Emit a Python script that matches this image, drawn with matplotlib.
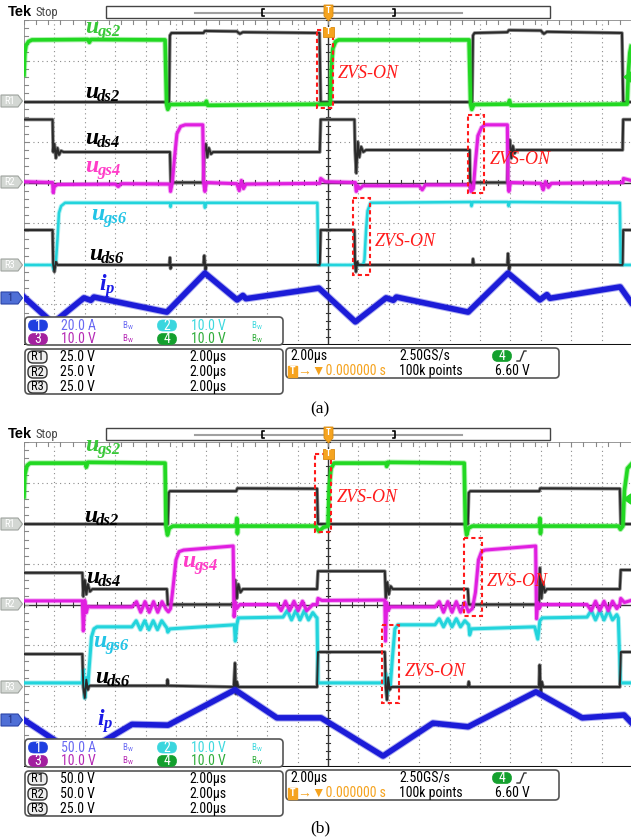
import matplotlib
matplotlib.use('Agg')
import matplotlib.pyplot as plt
from matplotlib.patches import FancyBboxPatch, Rectangle, Polygon
import logging
logging.getLogger('matplotlib.font_manager').setLevel(logging.ERROR)

W, H = 631, 840
DY = 422  # vertical offset of panel (b) in pixels

# ---------------- data: time in µs (2 µs/div), value in screen divisions ----------------
# Panel (a)
A_UGS2 = [(-10.0, 2.65), (-9.97, 3.2), (-9.93, 3.38), (-9.85, 3.47), (-9.74, 3.51), (-7.9, 3.52), (-7.85, 3.45),
          (-7.8, 3.52), (-5.36, 3.51), (-5.31, 1.93), (-5.27, 1.80), (-5.2, 1.92), (-4.05, 1.93), (-4.0, 2.0),
          (-3.96, 1.9), (0.08, 1.93), (0.11, 2.8), (0.16, 3.3), (0.25, 3.47), (0.35, 3.51), (4.64, 3.51),
          (4.69, 1.93), (4.73, 1.80), (4.8, 1.92), (5.93, 1.93), (5.97, 2.02), (6.01, 1.9), (9.84, 1.93),
          (9.88, 2.7), (9.93, 3.2), (9.97, 3.35)]
A_UDS2 = [(-10.0, 1.98), (-5.23, 1.98), (-5.20, 3.62), (-5.15, 3.68), (-4.1, 3.68), (-4.05, 3.73), (-3.0, 3.72),
          (-2.9, 3.66), (-2.8, 3.70), (-0.28, 3.68), (-0.24, 1.98), (4.74, 1.98), (4.77, 3.62), (4.82, 3.68),
          (5.9, 3.70), (5.95, 3.75), (7.0, 3.74), (7.1, 3.66), (7.2, 3.71), (9.67, 3.68), (9.71, 1.98), (9.97, 1.98)]
A_UDS4 = [(-10.0, 1.55), (-9.06, 1.55), (-9.04, 0.75), (-9.0, 0.95), (-8.95, 0.6), (-8.9, 0.85), (-8.85, 0.68),
          (-8.78, 0.78), (-8.7, 0.75), (-5.2, 0.75), (-5.17, -0.1), (-5.14, 0.0), (-4.1, 0.0), (-4.07, 0.75),
          (-4.02, 0.95), (-3.97, 0.62), (-3.92, 0.85), (-3.85, 0.7), (-3.78, 0.75), (-0.27, 0.75), (-0.24, 1.55),
          (0.87, 1.55), (0.89, 0.8), (0.93, 0.23), (0.98, 1.0), (1.03, 0.62), (1.09, 0.88), (1.16, 0.75),
          (1.25, 0.8), (4.66, 0.8), (4.68, -0.14), (4.72, 0.0), (5.90, 0.0), (5.93, 0.8), (5.98, 1.05),
          (6.03, 0.6), (6.08, 0.9), (6.14, 0.72), (6.2, 0.8), (9.69, 0.8), (9.71, 1.55), (9.97, 1.55)]
A_UGS4 = [(-10.0, 0.02), (-9.06, 0.0), (-9.04, -0.25), (-9.0, -0.1), (-8.9, -0.05), (-7.0, -0.04), (-6.9, -0.1),
          (-6.8, -0.03), (-5.2, -0.04), (-5.18, -0.22), (-5.12, 0.0), (-5.05, 0.6), (-4.97, 1.2), (-4.85, 1.38),
          (-4.7, 1.42), (-4.12, 1.42), (-4.09, 0.0), (-4.05, -0.22), (-4.0, 0.0), (-3.0, -0.03), (-2.92, -0.2),
          (-2.85, 0.05), (-2.78, -0.15), (-2.7, -0.04), (-0.27, -0.02), (-0.24, 0.1), (-0.1, 0.02), (0.9, 0.0),
          (0.93, -0.22), (0.98, -0.08), (1.05, -0.15), (1.15, -0.08), (3.0, -0.08), (3.1, -0.18), (3.2, -0.06),
          (4.68, -0.06), (4.7, -0.22), (4.78, -0.15), (4.85, 0.5), (4.93, 1.15), (5.05, 1.35), (5.16, 1.42),
          (5.9, 1.42), (5.92, 0.0), (5.95, -0.22), (6.0, 0.0), (7.0, -0.02), (7.08, -0.18), (7.15, 0.02),
          (7.25, -0.12), (7.35, -0.02), (9.7, 0.0), (9.72, 0.1), (9.97, 0.05)]
A_UGS6 = [(-10.0, -2.03), (-9.06, -2.03), (-9.02, -2.15), (-8.95, -1.95), (-8.9, -1.4), (-8.85, -0.75),
          (-8.78, -0.58), (-8.65, -0.5), (-5.2, -0.5), (-5.18, -0.6), (-5.15, -0.5), (-4.07, -0.5), (-4.05, -0.62),
          (-4.0, -0.5), (-0.35, -0.5), (-0.32, -2.03), (1.15, -2.03), (1.2, -1.9), (1.25, -1.2), (1.3, -0.7),
          (1.4, -0.5), (4.7, -0.48), (4.72, -0.58), (4.76, -0.48), (5.92, -0.48), (5.94, -0.58), (5.98, -0.48),
          (9.6, -0.5), (9.63, -2.03), (9.97, -2.03)]
A_UDS6 = [(-10.0, -1.17), (-9.06, -1.17), (-9.04, -2.03), (-9.0, -2.2), (-8.95, -1.95), (-8.9, -2.03),
          (-5.22, -2.03), (-5.2, -1.85), (-5.18, -2.12), (-5.15, -2.03), (-4.1, -2.03), (-4.07, -1.8),
          (-4.03, -2.15), (-4.0, -2.03), (-0.27, -2.03), (-0.24, -1.17), (0.87, -1.17), (0.89, -2.03),
          (0.92, -2.2), (0.96, -1.95), (1.0, -2.03), (4.75, -2.03), (4.77, -1.88), (4.8, -2.03), (5.9, -2.03),
          (5.92, -1.75), (5.96, -2.15), (6.0, -2.03), (9.69, -2.03), (9.71, -1.17), (9.97, -1.17)]
A_IP = [(-10.0, -2.82), (-9.05, -3.46), (-8.03, -2.84), (-7.8, -2.9), (-7.7, -2.82), (-5.30, -3.19),
        (-4.05, -2.23), (-2.99, -2.89), (-2.8, -2.78), (-2.7, -2.86), (-0.3, -2.6), (0.9, -3.43), (1.91, -2.84),
        (2.15, -2.9), (2.25, -2.82), (4.61, -3.19), (5.92, -2.23), (6.97, -2.89), (7.2, -2.76), (7.3, -2.85),
        (9.61, -2.57), (9.97, -2.95)]

# Panel (b)
B_UGS2 = [(-10.0, 2.65), (-9.97, 3.2), (-9.9, 3.42), (-9.8, 3.48), (-7.98, 3.48), (-7.95, 3.38), (-7.9, 3.5),
          (-5.36, 3.48), (-5.33, 1.93), (-5.28, 1.71), (-5.22, 1.88), (-5.1, 1.93), (-3.02, 1.93), (-3.0, 2.12),
          (-2.98, 1.75), (-2.96, 1.93), (-0.4, 1.93), (-0.3, 1.8), (-0.15, 1.9), (0.0, 1.93), (0.04, 2.9),
          (0.1, 3.35), (0.2, 3.48), (1.9, 3.48), (1.93, 3.4), (1.96, 3.5), (4.48, 3.48), (4.52, 1.93),
          (4.56, 1.71), (4.62, 1.88), (4.75, 1.93), (6.95, 1.93), (6.97, 2.12), (6.99, 1.75), (7.01, 1.93),
          (9.55, 1.93), (9.62, 1.85), (9.7, 1.93), (9.75, 2.8), (9.85, 3.35), (9.97, 3.45)]
B_UDS2 = [(-10.0, 1.98), (-5.27, 1.98), (-5.24, 2.75), (-5.2, 2.79), (-3.02, 2.79), (-2.98, 2.86),
          (-0.36, 2.85), (-0.33, 1.98), (4.6, 1.98), (4.63, 2.75), (4.68, 2.79), (6.95, 2.79), (6.98, 2.86),
          (9.6, 2.85), (9.63, 1.98), (9.97, 1.98)]
B_UDS4 = [(-10.0, 0.78), (-8.08, 0.78), (-8.05, 0.2), (-8.0, 0.6), (-7.95, 0.25), (-7.9, 0.5), (-7.83, 0.32),
          (-7.75, 0.38), (-5.30, 0.38), (-5.27, 0.0), (-3.08, 0.0), (-3.05, 0.6), (-3.0, 0.15), (-2.95, 0.5),
          (-2.88, 0.3), (-2.8, 0.38), (-0.36, 0.38), (-0.33, 0.82), (1.87, 0.82), (1.9, 0.15), (1.95, 0.55),
          (2.0, 0.25), (2.06, 0.45), (2.13, 0.38), (4.6, 0.38), (4.63, 0.0), (6.94, 0.0), (6.97, 0.9),
          (7.02, 0.15), (7.07, 0.55), (7.13, 0.3), (7.2, 0.38), (9.6, 0.38), (9.63, 0.85), (9.97, 0.85)]
B_UGS4 = [(-10.0, 0.09), (-8.08, 0.09), (-8.05, -0.65), (-8.0, 0.1), (-7.95, -0.2), (-7.9, -0.05),
          (-7.8, -0.06), (-6.45, -0.06), (-6.3, 0.07), (-6.16, -0.19), (-6.02, 0.07), (-5.88, -0.19),
          (-5.74, 0.07), (-5.6, -0.19), (-5.46, 0.07), (-5.32, -0.12), (-5.25, -0.18), (-5.18, -0.1),
          (-5.1, 0.4), (-5.0, 1.1), (-4.9, 1.3), (-4.75, 1.34), (-3.12, 1.44), (-3.09, -0.3), (-3.04, 0.05),
          (-3.0, -0.1), (-2.9, 0.0), (-1.68, 0.0), (-1.54, -0.15), (-1.4, 0.08), (-1.26, -0.15), (-1.12, 0.08),
          (-0.98, -0.15), (-0.84, 0.08), (-0.7, -0.15), (-0.5, 0.0), (-0.36, 0.0), (-0.33, 0.15), (-0.2, 0.1),
          (1.87, 0.11), (1.89, -0.9), (1.93, 0.05), (1.98, -0.15), (2.05, -0.06), (3.52, -0.06), (3.66, 0.07),
          (3.8, -0.19), (3.94, 0.07), (4.08, -0.19), (4.22, 0.07), (4.36, -0.19), (4.5, 0.05), (4.62, -0.18),
          (4.75, -0.1), (4.85, 0.3), (4.95, 1.1), (5.05, 1.3), (5.16, 1.34), (6.83, 1.44), (6.86, -0.35),
          (6.9, 0.05), (6.95, -0.1), (7.0, 0.0), (8.52, 0.0), (8.66, -0.15), (8.8, 0.08), (8.94, -0.15),
          (9.08, 0.08), (9.22, -0.15), (9.36, 0.08), (9.5, -0.1), (9.6, 0.0), (9.63, 0.15), (9.75, 0.05),
          (9.97, 0.1)]
B_UGS6 = [(-10.0, -1.93), (-8.08, -1.93), (-8.05, -1.6), (-8.0, -2.3), (-7.95, -1.8), (-7.9, -2.0),
          (-7.85, -1.5), (-7.78, -0.8), (-7.7, -0.6), (-7.6, -0.55), (-6.45, -0.55), (-6.31, -0.4),
          (-6.17, -0.62), (-6.03, -0.4), (-5.89, -0.62), (-5.75, -0.4), (-5.61, -0.62), (-5.47, -0.4),
          (-5.3, -0.58), (-5.27, -0.68), (-5.2, -0.6), (-3.08, -0.5), (-3.05, -0.9), (-3.0, -0.5),
          (-2.95, -0.33), (-1.48, -0.31), (-1.34, -0.15), (-1.2, -0.38), (-1.06, -0.15), (-0.92, -0.38),
          (-0.78, -0.15), (-0.64, -0.38), (-0.5, -0.2), (-0.4, -0.3), (-0.36, -0.33), (-0.33, -1.93),
          (1.85, -1.93), (1.9, -1.7), (1.95, -2.2), (2.0, -1.85), (2.05, -2.0), (2.12, -1.3), (2.2, -0.6),
          (2.3, -0.5), (3.52, -0.5), (3.66, -0.35), (3.8, -0.55), (3.94, -0.35), (4.08, -0.55), (4.22, -0.35),
          (4.36, -0.55), (4.5, -0.4), (4.63, -0.5), (4.66, -0.75), (4.72, -0.6), (6.8, -0.55), (6.9, -0.85),
          (6.97, -0.4), (7.05, -0.33), (8.52, -0.31), (8.66, -0.15), (8.8, -0.38), (8.94, -0.15), (9.08, -0.38),
          (9.22, -0.15), (9.36, -0.38), (9.5, -0.25), (9.55, -0.33), (9.62, -1.93), (9.97, -1.93)]
B_UDS6 = [(-10.0, -1.22), (-8.08, -1.22), (-8.05, -2.03), (-8.0, -2.3), (-7.95, -1.85), (-7.9, -2.1),
          (-7.85, -2.0), (-5.3, -2.0), (-5.28, -1.85), (-5.25, -2.0), (-3.1, -2.03), (-3.06, -1.44),
          (-3.03, -2.2), (-3.0, -1.9), (-2.95, -2.03), (-0.36, -2.03), (-0.33, -1.17), (1.87, -1.17),
          (1.9, -2.03), (1.94, -2.35), (1.98, -1.8), (2.03, -2.1), (2.08, -2.03), (4.6, -2.03), (4.63, -1.9),
          (4.66, -2.03), (6.94, -2.03), (6.96, -1.49), (7.0, -2.2), (7.03, -1.9), (7.08, -2.03), (9.6, -2.03),
          (9.63, -1.17), (9.97, -1.17)]
B_IP = [(-10.0, -2.84), (-8.2, -3.73), (-6.45, -2.95), (-5.26, -2.97), (-3.06, -2.10), (-1.68, -2.79),
        (-0.23, -2.79), (1.81, -3.73), (3.45, -2.92), (4.61, -3.01), (6.84, -2.15), (8.36, -2.79),
        (9.74, -2.72), (9.97, -2.9)]

CH_A = ['20.0 A', '10.0 V', '10.0 V', '10.0 V']
CH_B = ['50.0 A', '10.0 V', '10.0 V', '10.0 V']
REF_A = ['25.0 V', '25.0 V', '25.0 V']
REF_B = ['50.0 V', '50.0 V', '25.0 V']
TIMEBASE = '2.00µs'

# ---------------- styles ----------------
C_GREEN = '#22d822'
C_DARK = '#2a2a2a'
C_MAG = '#e01ee0'
C_CYAN = '#22d4dc'
C_BLUE = '#1c1cd8'
C_RED = '#ff1a1a'
NARROW = ['Roboto Condensed', 'Open Sans Condensed', 'Liberation Sans', 'DejaVu Sans']
SERIF = 'Liberation Serif'
FS = 10

fig = plt.figure(figsize=(W / 100, H / 100), dpi=100)
fig.patch.set_facecolor('white')


def pax(x0, y0, x1, y1, z=1):
    return fig.add_axes([x0 / W, 1 - y1 / H, (x1 - x0) / W, (y1 - y0) / H], zorder=z)


def unz(pts):
    return [p[0] for p in pts], [p[1] for p in pts]


def scope(top, traces):
    ax = pax(24, top, W, top + 325)
    ax.set_xlim(-10, (W - 328) / 30.4)
    ax.set_ylim(-4, 4)
    ax.axis('off')
    # graticule
    for t in range(-9, 10):
        if t != 0:
            ax.axvline(t, color='#8c8c8c', lw=0.8, ls=(0, (1, 3)), zorder=0)
    for v in [-3, -2, -1, 1, 2, 3]:
        ax.axhline(v, color='#8c8c8c', lw=0.8, ls=(0, (1, 3)), zorder=0)
    ax.axvline(0, color='#333333', lw=1.0, zorder=0.5)
    ax.axhline(0, color='#333333', lw=1.0, zorder=0.5)
    ax.axvline(-10, color='#888888', lw=1.2, zorder=0.5)
    ax.axhline(4, color='#888888', lw=1.2, zorder=0.5)
    ax.axhline(-4, color='#111111', lw=2.2, zorder=0.5)
    for k in range(-20, 21):
        v = k * 0.2
        ax.plot([-0.07, 0.07], [v, v], color='#333333', lw=0.8, zorder=0.5)
        ax.plot([-10, -9.86], [v, v], color='#888888', lw=0.8, zorder=0.5)
    for k in range(-50, 51):
        t = k * 0.4
        ax.plot([t, t], [-0.05, 0.05], color='#333333', lw=0.8, zorder=0.5)
        ax.plot([t, t], [4, 3.9], color='#888888', lw=0.8, zorder=0.5)
    for pts, col, lw, z in traces:
        t, v = unz(pts)
        if col == C_DARK:
            ax.plot(t, v, color='#8a8a8a', lw=lw + 1.2, zorder=z - 0.1, solid_joinstyle='round')
        else:
            ax.plot(t, v, color=col, lw=lw + 1.4, alpha=0.35, zorder=z - 0.1, solid_joinstyle='round')
        ax.plot(t, v, color=col, lw=lw, zorder=z, solid_joinstyle='round')
    return ax


scope(20, [(A_UDS2, C_DARK, 1.4, 2), (A_UDS4, C_DARK, 1.4, 2), (A_UDS6, C_DARK, 1.4, 2.2),
           (A_UGS2, C_GREEN, 2.6, 3), (A_UGS4, C_MAG, 2.2, 3), (A_UGS6, C_CYAN, 1.8, 2.1),
           (A_IP, C_BLUE, 4.0, 4)])
scope(20 + DY, [(B_UDS2, C_DARK, 1.4, 2), (B_UDS4, C_DARK, 1.4, 2), (B_UDS6, C_DARK, 1.4, 2.2),
                (B_UGS2, C_GREEN, 2.6, 3), (B_UGS4, C_MAG, 2.2, 3), (B_UGS6, C_CYAN, 2.2, 2.1),
                (B_IP, C_BLUE, 4.0, 4)])

# ---------------- overlay (pixel coordinates) ----------------
ov = fig.add_axes([0, 0, 1, 1], zorder=5)
ov.set_xlim(0, W)
ov.set_ylim(H, 0)
ov.axis('off')
ov.patch.set_alpha(0)


def rbox(x0, y0, x1, y1, r=4, fc='white', ec='#555555', lw=1.2, z=6, ls='-'):
    ov.add_patch(FancyBboxPatch((x0, y0), x1 - x0, y1 - y0,
                                boxstyle='round,pad=0,rounding_size=%g' % r,
                                fc=fc, ec=ec, lw=lw, zorder=z, ls=ls))


def txt(x, y, s, size=FS, color='black', ha='left', fam=None, z=7, **kw):
    ov.text(x, y, s, fontsize=size, color=color, ha=ha, va='center',
            family=fam if fam else NARROW, zorder=z, **kw)


def oval(xc, yc, s, fc):
    rbox(xc - 9.5, yc - 5.5, xc + 9.5, yc + 5.5, r=5.5, fc=fc, ec=fc, lw=0.5, z=7)
    txt(xc, yc, s, size=FS, color='white', ha='center', z=8)


def bw(x, y, col):
    txt(x, y, r'$\mathregular{B_W}$', size=6.5, color=col)


def lab(x, y, main, sub, col, off=12):
    ov.text(x, y, main, fontsize=17, family=SERIF, style='italic', weight='bold', color=col,
            va='baseline', ha='left', zorder=8)
    ov.text(x + off, y + 3, sub, fontsize=12, family=SERIF, style='italic', weight='bold', color=col,
            va='baseline', ha='left', zorder=8)


def zvs(tx, ty, bx0, by0, bx1, by1):
    ov.add_patch(Rectangle((bx0, by0), bx1 - bx0, by1 - by0, fill=False, ec=C_RED, lw=1.5,
                           ls=(0, (2, 1.5)), zorder=7))
    ov.text(tx, ty, 'ZVS-ON', fontsize=13, family=SERIF, style='italic', color=C_RED,
            va='center', ha='left', zorder=8)


def marker(y, s, fc, ec, tc):
    ov.add_patch(Polygon([(1, y - 6), (18, y - 6), (22.5, y), (18, y + 6), (1, y + 6)], closed=True,
                         fc=fc, ec=ec, lw=0.8, zorder=7))
    txt(10, y, s, size=7.5, color=tc, ha='center', z=8)


def chrome(dy, ch, refs, rl):
    txt(8, 12 + dy, 'Tek', size=10.5, fam='Liberation Sans', weight='bold')
    txt(35, 12.5 + dy, 'Stop', size=9, color='#444444')
    ov.add_patch(Rectangle((106, 6 + dy), 444, 12, fc='white', ec='#444444', lw=1, zorder=6))
    ov.plot([195, 462], [12.5 + dy] * 2, color='#a0a0a0', lw=1.5, zorder=7)
    ov.plot([264, 262, 262, 264], [9 + dy, 9 + dy, 16 + dy, 16 + dy], color='black', lw=1.2, zorder=7)
    ov.plot([393, 395, 395, 393], [9 + dy, 9 + dy, 16 + dy, 16 + dy], color='black', lw=1.2, zorder=7)
    # trigger position markers
    ov.add_patch(Polygon([(324, 5 + dy), (333, 5 + dy), (333, 16 + dy), (328.5, 21 + dy), (324, 16 + dy)],
                         fc='#f5a31f', ec='#d88a10', lw=0.6, zorder=8))
    txt(328.5, 10.5 + dy, 'T', size=6.5, color='white', ha='center', z=9, weight='bold')
    ov.add_patch(Polygon([(323, 27 + dy), (334, 27 + dy), (334, 37 + dy), (323, 37 + dy)],
                         fc='#f5a31f', ec='#d88a10', lw=0.6, zorder=8))
    txt(328.5, 32 + dy, 'T', size=6.5, color='white', ha='center', z=9, weight='bold')
    # trigger level marker (ch4)
    ov.add_patch(Polygon([(624, 77 + dy), (631, 72 + dy), (631, 82 + dy)], fc=C_GREEN, ec=C_GREEN, zorder=8))
    # left reference markers
    for y, s in zip(rl[:3], ['R1', 'R2', 'R3']):
        marker(y, s, '#d3d7d3', '#9ea39e', '#ffffff')
    marker(rl[3], '1', '#4f6fd6', '#2b44a8', '#1b2a7a')
    # channel box
    rbox(25, 317 + dy, 283, 345 + dy)
    r1, r2 = 325.5 + dy, 339 + dy
    oval(38, r1, '1', '#1f3fe0'); txt(61, r1, ch[0], color='#6a6af2'); bw(122, r1, '#6a6af2')
    oval(167, r1, '2', '#3ad6de'); txt(191, r1, ch[1], color='#3fd9df'); bw(251, r1, '#3fd9df')
    oval(38, r2, '3', '#a3209f'); txt(61, r2, ch[2], color='#b52ab5'); bw(122, r2, '#b52ab5')
    oval(167, r2, '4', '#14a02e'); txt(191, r2, ch[3], color='#2fad3a'); bw(251, r2, '#2fad3a')
    # reference box
    rbox(25, 349 + dy, 283, 394 + dy)
    for i, (y, s) in enumerate(zip([357, 372, 387], ['R1', 'R2', 'R3'])):
        rbox(28, y - 6 + dy, 47, y + 6 + dy, r=5, fc='#eeeeee', ec='#333333', lw=1, z=7)
        txt(37.5, y + dy, s, size=9, ha='center', z=8)
        txt(60, y + dy, refs[i])
        txt(189, y + dy, TIMEBASE)
    # timebase box
    rbox(286, 348 + dy, 559, 378 + dy)
    txt(290, 356 + dy, TIMEBASE)
    txt(399, 356 + dy, '2.50GS/s')
    oval(502, 356 + dy, '4', '#14a02e')
    ov.plot([517, 520, 524, 526], [361 + dy, 361 + dy, 351 + dy, 351 + dy], color='#333333', lw=1, zorder=8)
    ov.add_patch(Rectangle((288, 365.5 + dy), 9, 11, fc='#f5a31f', ec='#f5a31f', zorder=7))
    txt(292.5, 371 + dy, 'T', size=7.5, color='white', ha='center', z=8, weight='bold')
    txt(298, 371 + dy, '→▼0.000000 s', color='#f5a31f')
    txt(399, 371 + dy, '100k points')
    txt(495, 371 + dy, '6.60 V')


chrome(0, CH_A, REF_A, [101, 182, 265, 298])
chrome(DY, CH_B, REF_B, [524, 604, 687, 720])

# waveform labels
lab(85, 33, 'u', 'gs2', '#38c838')
lab(85, 98, 'u', 'ds2', 'black')
lab(85, 144, 'u', 'ds4', 'black')
lab(85, 172, 'u', 'gs4', '#ff3cc8')
lab(91, 220, 'u', 'gs6', '#22c4e6')
lab(89, 260, 'u', 'ds6', 'black')
lab(99, 290, 'i', 'p', '#1a1ae6', off=6)

lab(85, 451, 'u', 'gs2', '#38c838')
lab(84, 522, 'u', 'ds2', 'black')
lab(86, 583, 'u', 'ds4', 'black')
lab(182, 567, 'u', 'gs4', '#ff3cc8')
lab(93, 647, 'u', 'gs6', '#22c4e6')
lab(95, 683, 'u', 'ds6', 'black')
lab(97, 725, 'i', 'p', '#1a1ae6', off=6)

# ZVS annotations
zvs(338, 74, 317, 30, 333, 108)
zvs(490, 159, 468, 115, 484, 193)
zvs(375, 241, 353, 198, 370, 275)
zvs(337, 497, 315, 454, 331, 532)
zvs(487, 581, 464, 538, 482, 616)
zvs(405, 671, 382, 625, 399, 703)

ov.text(320, 409, '(a)', fontsize=12.5, family=SERIF, ha='center', va='center')
ov.text(320, 828, '(b)', fontsize=12.5, family=SERIF, ha='center', va='center')

fig.savefig('out.png', dpi=100, facecolor='white')
